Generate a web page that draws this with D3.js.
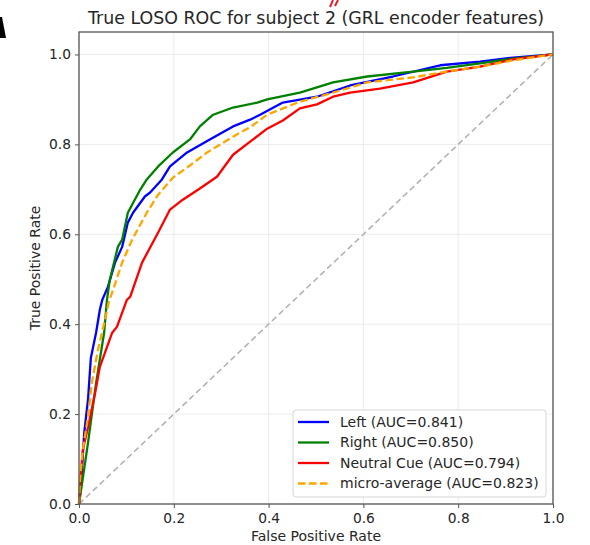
<!DOCTYPE html>
<html>
<head>
<meta charset="utf-8">
<script src="https://cdn.jsdelivr.net/npm/d3@7"></script>
<style>
  body { margin: 0; background: #fff; }
  text { font-family: "DejaVu Sans", sans-serif; fill: #262626; }
</style>
</head>
<body>
<svg id="chart" width="590" height="545"></svg>
<script>
const width = 590, height = 545;
const margin = { top: 32, right: 37, bottom: 41, left: 79 };

const titleText = "True LOSO ROC for subject 2 (GRL encoder features)";
const tickValues = [0.0, 0.2, 0.4, 0.6, 0.8, 1.0];

// ROC points
const fprLeft = [0, 0.004, 0.011, 0.019, 0.025, 0.036, 0.044, 0.049, 0.061, 0.076, 0.091, 0.103, 0.114, 0.139, 0.150, 0.175, 0.192, 0.228, 0.276, 0.325, 0.361, 0.382, 0.430, 0.502, 0.572, 0.662, 0.762, 0.846, 0.916, 1];
const tprLeft = [0, 0.038, 0.158, 0.232, 0.325, 0.381, 0.432, 0.454, 0.483, 0.537, 0.572, 0.626, 0.648, 0.684, 0.693, 0.722, 0.751, 0.782, 0.811, 0.840, 0.855, 0.866, 0.893, 0.906, 0.931, 0.951, 0.976, 0.984, 0.993, 1];

const fprRight = [0, 0.019, 0.036, 0.053, 0.059, 0.065, 0.082, 0.091, 0.103, 0.129, 0.143, 0.167, 0.198, 0.234, 0.255, 0.283, 0.325, 0.376, 0.397, 0.466, 0.536, 0.608, 0.705, 0.776, 0.846, 0.916, 1];
const tprRight = [0, 0.136, 0.269, 0.381, 0.454, 0.499, 0.572, 0.588, 0.648, 0.699, 0.722, 0.751, 0.782, 0.811, 0.840, 0.866, 0.882, 0.893, 0.900, 0.915, 0.938, 0.951, 0.962, 0.970, 0.980, 0.991, 1];

const fprNeutral = [0, 0.002, 0.008, 0.019, 0.034, 0.044, 0.070, 0.080, 0.101, 0.108, 0.133, 0.167, 0.192, 0.219, 0.255, 0.291, 0.325, 0.361, 0.397, 0.430, 0.466, 0.502, 0.536, 0.572, 0.635, 0.705, 0.776, 0.846, 0.916, 1];
const tprNeutral = [0, 0.042, 0.120, 0.171, 0.247, 0.305, 0.381, 0.394, 0.454, 0.461, 0.537, 0.604, 0.655, 0.677, 0.702, 0.728, 0.777, 0.806, 0.835, 0.853, 0.880, 0.889, 0.906, 0.915, 0.924, 0.938, 0.962, 0.973, 0.989, 1];

const fprMicro = [0, 0.002, 0.008, 0.019, 0.027, 0.040, 0.055, 0.063, 0.072, 0.091, 0.112, 0.143, 0.167, 0.198, 0.234, 0.270, 0.333, 0.361, 0.397, 0.466, 0.536, 0.608, 0.705, 0.776, 0.846, 0.916, 1];
const tprMicro = [0, 0.053, 0.120, 0.194, 0.269, 0.343, 0.410, 0.450, 0.477, 0.537, 0.588, 0.648, 0.688, 0.726, 0.753, 0.782, 0.822, 0.838, 0.866, 0.895, 0.915, 0.938, 0.949, 0.962, 0.973, 0.987, 1];

const seriesNames = ["Left", "Right", "Neutral Cue", "micro-average"];
const seriesAuc = [0.841, 0.850, 0.794, 0.823];
const seriesColors = ["#0000ff", "#008000", "#ff0000", "#ffa500"];
const seriesFpr = [fprLeft, fprRight, fprNeutral, fprMicro];
const seriesTpr = [tprLeft, tprRight, tprNeutral, tprMicro];

const svg = d3.select("#chart");

const x = d3.scaleLinear().domain([0, 1]).range([margin.left, width - margin.right]);
const y = d3.scaleLinear().domain([0, 1.05]).range([height - margin.bottom, margin.top]);

// grid
svg.append("g")
    .selectAll("line.vgrid")
    .data(tickValues)
    .enter().append("line")
    .attr("x1", d => x(d)).attr("x2", d => x(d))
    .attr("y1", y(0)).attr("y2", y(1.05))
    .attr("stroke", "#ebebeb").attr("stroke-width", 1);
svg.append("g")
    .selectAll("line.hgrid")
    .data(tickValues)
    .enter().append("line")
    .attr("x1", x(0)).attr("x2", x(1))
    .attr("y1", d => y(d)).attr("y2", d => y(d))
    .attr("stroke", "#ebebeb").attr("stroke-width", 1);

// chance diagonal
svg.append("line")
    .attr("x1", x(0)).attr("y1", y(0))
    .attr("x2", x(1)).attr("y2", y(1))
    .attr("stroke", "#b3b3b3")
    .attr("stroke-width", 1.6)
    .attr("stroke-dasharray", "6,3.5");

const line = d3.line()
    .x(d => x(d[0]))
    .y(d => y(d[1]));

seriesNames.forEach((name, i) => {
    const pts = seriesFpr[i].map((f, j) => [f, seriesTpr[i][j]]);
    svg.append("path")
        .datum(pts)
        .attr("fill", "none")
        .attr("stroke", seriesColors[i])
        .attr("stroke-width", 2.3)
        .attr("stroke-linejoin", "round")
        .attr("stroke-dasharray", i === 3 ? "7.5,3.5" : null)
        .attr("d", line);
});

// frame
svg.append("rect")
    .attr("x", x(0)).attr("y", y(1.05))
    .attr("width", x(1) - x(0)).attr("height", y(0) - y(1.05))
    .attr("fill", "none").attr("stroke", "#555").attr("stroke-width", 1.3);

// axes
const xAxis = svg.append("g")
    .attr("transform", `translate(0,${y(0)})`)
    .call(d3.axisBottom(x).tickValues(tickValues).tickFormat(d3.format(".1f")).tickSize(4).tickPadding(5));
const yAxis = svg.append("g")
    .attr("transform", `translate(${x(0)},0)`)
    .call(d3.axisLeft(y).tickValues(tickValues).tickFormat(d3.format(".1f")).tickSize(4).tickPadding(4));
[xAxis, yAxis].forEach(a => {
    a.select(".domain").remove();
    a.selectAll(".tick line").attr("stroke", "#555");
    a.selectAll(".tick text")
        .style("font-family", "DejaVu Sans")
        .style("font-size", "13.8px")
        .attr("fill", "#262626");
});

// title and labels
svg.append("text")
    .attr("x", (x(0) + x(1)) / 2)
    .attr("y", 24)
    .attr("text-anchor", "middle")
    .style("font-size", "17.4px")
    .text(titleText);

svg.append("text")
    .attr("x", (x(0) + x(1)) / 2)
    .attr("y", 541)
    .attr("text-anchor", "middle")
    .style("font-size", "14px")
    .text("False Positive Rate");

svg.append("text")
    .attr("transform", `translate(40,${(y(0) + y(1.05)) / 2}) rotate(-90)`)
    .attr("text-anchor", "middle")
    .style("font-size", "14px")
    .text("True Positive Rate");

// legend
const legend = svg.append("g").attr("transform", "translate(293,410)");
legend.append("rect")
    .attr("width", 253).attr("height", 87)
    .attr("rx", 3)
    .attr("fill", "#fff").attr("fill-opacity", 0.85)
    .attr("stroke", "#d6d6d6").attr("stroke-width", 1);
seriesNames.forEach((name, i) => {
    const row = legend.append("g").attr("transform", `translate(0,${12 + i * 20.5})`);
    row.append("line")
        .attr("x1", 5).attr("x2", 36)
        .attr("stroke", seriesColors[i])
        .attr("stroke-width", 2.3)
        .attr("stroke-dasharray", i === 3 ? "7.5,3.5" : null);
    row.append("text")
        .attr("x", 47).attr("y", 0)
        .attr("dy", "0.35em")
        .style("font-size", "14px")
        .text(`${name} (AUC=${seriesAuc[i].toFixed(3)})`);
});

// stray marks in the scanned picture
svg.append("path")
    .attr("d", "M0,17 L2,17 L6,38 L0,38 Z")
    .attr("fill", "#000");
svg.append("path")
    .attr("d", "M333,0 L330,7 M338,0 L335,6")
    .attr("stroke", "#e8202a").attr("stroke-width", 2).attr("fill", "none");
</script>
</body>
</html>
